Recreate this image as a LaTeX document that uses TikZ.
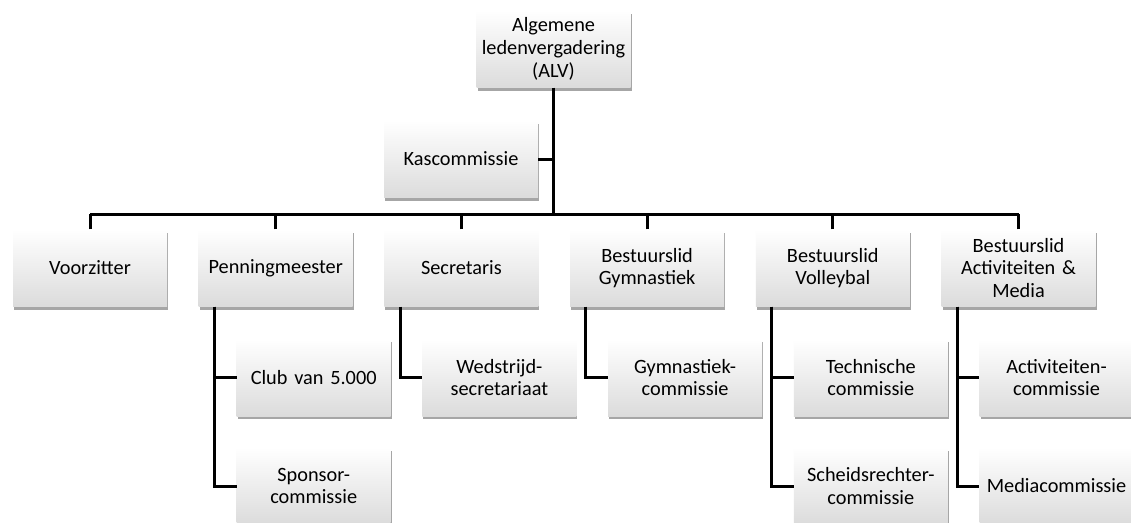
\documentclass[tikz,border=0pt]{standalone}
\usepackage{fontspec}
\setmainfont{Carlito}
\usetikzlibrary{shadows}

\tikzset{
	box/.style={minimum width=154pt, minimum height=77pt, inner sep=0pt, text width=152pt, align=center,
		top color=white, bottom color=black!14, draw=none, text=black,
		drop shadow={shadow xshift=1pt, shadow yshift=-3pt, opacity=0.35, fill=black},
		font=\fontsize{20.3}{22.8}\selectfont},
	conn/.style={line width=3pt, black, line join=miter}
}

\begin{document}
\begin{tikzpicture}[x=1pt,y=-1pt]
	\useasboundingbox[fill=white] (0,0) rectangle (1131,522);
	
	\node[box] (alv) at (553.5,49) {Algemene\\ledenvergadering\\(ALV)};
	\node[box] (kas) at (461,159) {Kascommissie};
	
	\node[box] (voorz) at (90,268) {Voorzitter};
	\node[box] (penning) at (275.7,268) {Penningmeester};
	\node[box] (secr) at (461.4,268) {Secretaris};
	\node[box] (gym) at (647.1,268) {Bestuurslid\\Gymnastiek};
	\node[box] (volley) at (832.8,268) {Bestuurslid\\Volleybal};
	\node[box] (activ) at (1018.5,268) {Bestuurslid\\Activiteiten \&\\Media};
	
	\node[box] (club) at (313.7,377.5) {Club van 5.000};
	\node[box] (sponsor) at (313.7,486) {Sponsor-\\commissie};
	\node[box] (wedstr) at (499.4,377.5) {Wedstrijd-\\secretariaat};
	\node[box] (gymcom) at (685.1,377.5) {Gymnastiek-\\commissie};
	\node[box] (techn) at (870.8,377.5) {Technische\\commissie};
	\node[box] (scheids) at (870.8,486) {Scheidsrechter-\\commissie};
	\node[box] (activcom) at (1056.5,377.5) {Activiteiten-\\commissie};
	\node[box] (media) at (1056.5,486) {Mediacommissie};
	
	\coordinate (bar) at (0,214);
	
	\draw[conn] (alv.south) -- (alv.south |- bar);
	\draw[conn] (kas.east) -- (kas.east -| alv.south);
	\draw[conn] (voorz.north |- bar) -- (activ.north |- bar);
	\draw[conn] (voorz.north) -- (voorz.north |- bar);
	\draw[conn] (penning.north) -- (penning.north |- bar);
	\draw[conn] (secr.north) -- (secr.north |- bar);
	\draw[conn] (gym.north) -- (gym.north |- bar);
	\draw[conn] (volley.north) -- (volley.north |- bar);
	\draw[conn] (activ.north) -- (activ.north |- bar);
	
	\draw[conn] ([xshift=16pt]penning.south west) |- (club.west);
	\draw[conn] ([xshift=16pt]penning.south west) |- (sponsor.west);
	\draw[conn] ([xshift=16pt]secr.south west) |- (wedstr.west);
	\draw[conn] ([xshift=16pt]gym.south west) |- (gymcom.west);
	\draw[conn] ([xshift=16pt]volley.south west) |- (techn.west);
	\draw[conn] ([xshift=16pt]volley.south west) |- (scheids.west);
	\draw[conn] ([xshift=16pt]activ.south west) |- (activcom.west);
	\draw[conn] ([xshift=16pt]activ.south west) |- (media.west);
\end{tikzpicture}
\end{document}
